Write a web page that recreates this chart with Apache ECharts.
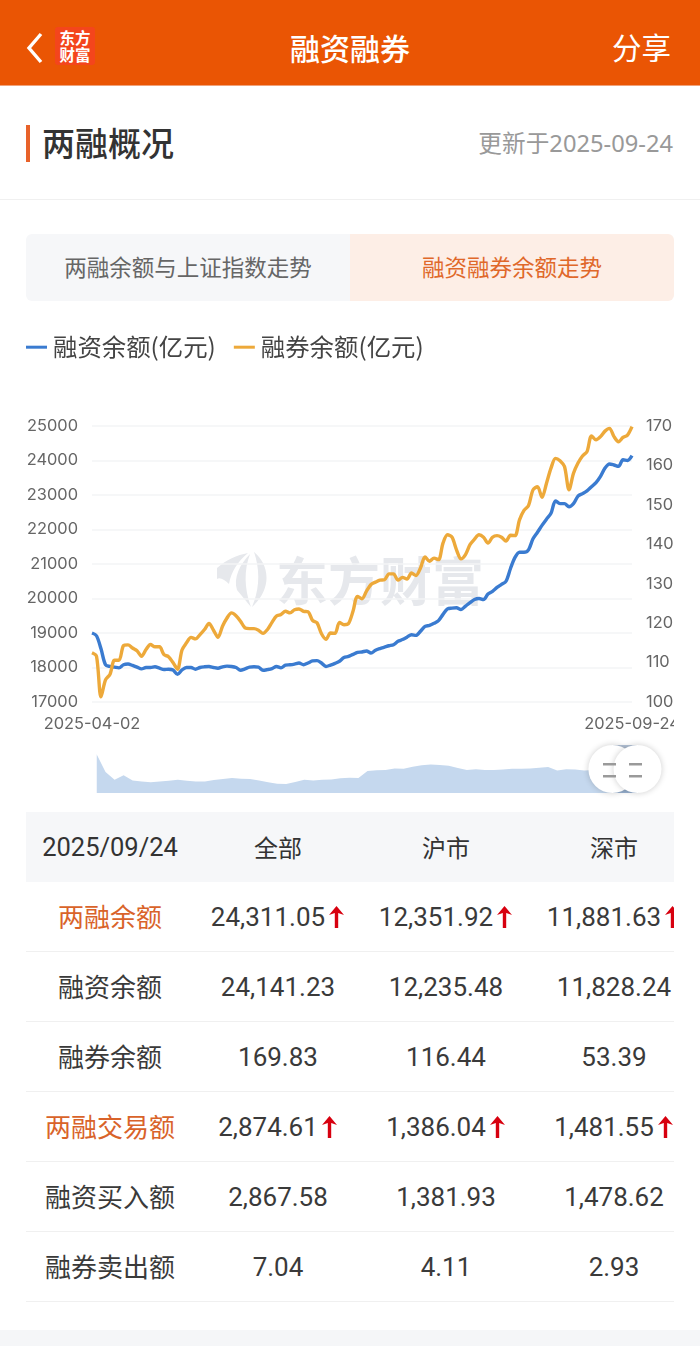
<!DOCTYPE html>
<html>
<head>
<meta charset="utf-8">
<title>融资融券</title>
<script src="https://cdn.jsdelivr.net/npm/echarts@6/dist/echarts.min.js"></script>
<style>
  html, body { margin: 0; padding: 0; background: #fff; }
  body { position: relative; width: 700px; height: 1346px; overflow: hidden;
    font-family: "Noto Sans", "Noto Sans CJK SC", sans-serif; color: #333; }
  .abs { position: absolute; white-space: nowrap; }
  #topbar { left: 0; top: 0; width: 700px; height: 85px; background: #ea5504; border-bottom: 1px solid #f0a27a; }
  #logo { left: 55px; top: 27px; width: 40px; height: 38px; background: #f4451c; border-radius: 3px;
    color: #fff; font: 700 15.5px/17px "Noto Sans CJK SC"; text-align: center; padding-top: 2px; box-sizing: border-box; }
  #tabs { left: 26px; top: 234px; width: 648px; height: 67px; border-radius: 6px; overflow: hidden; display: flex;
    font: 400 22.5px/65px "Noto Sans CJK SC"; text-align: center; }
  #tabs div { width: 324px; height: 67px; }
  #watermark { left: 276px; top: 544px; font: 700 52px/70px "Noto Sans CJK SC"; color: #e6e8ec; }
  #chart { position: absolute; left: 26px; top: 320px; width: 648px; height: 480px; }
  #tableWrap { left: 26px; top: 812px; width: 648px; overflow: hidden; }
  table { width: 672px; table-layout: fixed; border-collapse: separate; border-spacing: 0; }
  td, th { height: 70px; padding: 0; text-align: center; font-weight: 400; white-space: nowrap; font-size: 26px;
    font-family: Roboto, "Noto Sans CJK SC"; box-sizing: border-box; }
  th { background: #f6f7f9; font-size: 24px; padding-bottom: 1px; }
  th:first-child { font-size: 25.5px; }
  td { border-bottom: 1px solid #f0f0f0; color: #3a3a3a; }
  td:first-child { font-family: "Noto Sans CJK SC"; font-size: 26px; padding-bottom: 3px; }
  td svg { vertical-align: -3px; margin-left: 3px; }
  td.hot { color: #d9632a; }
  #footer { left: 0; top: 1330px; width: 700px; height: 16px; background: #f5f6f8; }
</style>
</head>
<body>
<div class="abs" id="topbar"></div>
<svg class="abs" style="left:24px;top:31px" width="22" height="34"><path d="M17 3 L5 17 L17 31" fill="none" stroke="#fff" stroke-width="3.4"/></svg>
<div class="abs" id="logo">东方<br>财富</div>
<div class="abs" style="left:0;width:700px;top:25px;text-align:center;color:#fff;font:500 30px/44px 'Noto Sans CJK SC'">融资融券</div>
<div class="abs" style="left:612px;top:24px;color:#fff;font:400 29.5px/44px 'Noto Sans CJK SC'">分享</div>

<div class="abs" style="left:26px;top:125px;width:4px;height:37px;background:#e8622a"></div>
<div class="abs" style="left:42px;top:118px;color:#333;font:500 33px/48px 'Noto Sans CJK SC'">两融概况</div>
<div class="abs" style="right:27px;top:125px;color:#999;font-size:23.7px;line-height:36px;font-family:'Noto Sans','Noto Sans CJK SC'">更新于2025-09-24</div>
<div class="abs" style="left:0;top:199px;width:700px;height:1px;background:#f0f0f0"></div>

<div class="abs" id="tabs">
  <div style="background:#f6f7f9;color:#666">两融余额与上证指数走势</div>
  <div style="background:#fdeee6;color:#e0682a">融资融券余额走势</div>
</div>

<svg class="abs" style="left:217px;top:552px" width="50" height="56" fill="#e6e8ec">
  <path d="M0 16 C9 8 20 3 31 1 C21 9 14 20 12 32 C8 28 3 25 0 27 Z"/>
  <path d="M33 2 C23 12 16 26 20 38 L34 55 C27 36 27 18 33 2 Z"/>
  <path d="M37 0 C52 12 56 36 35 55 C43 36 43 17 37 0 Z"/>
</svg>
<div class="abs" id="watermark">东方财富</div>
<div id="chart"></div>

<div class="abs" id="tableWrap"><table><thead id="thead"></thead><tbody id="tbody"></tbody></table></div>
<div class="abs" id="footer"></div>

<script>
const dates = [
  "2025-04-02","2025-04-03","2025-04-07","2025-04-08","2025-04-09","2025-04-10","2025-04-11","2025-04-14","2025-04-15","2025-04-16","2025-04-17","2025-04-18","2025-04-21","2025-04-22","2025-04-23","2025-04-24","2025-04-25","2025-04-28","2025-04-29","2025-04-30",
  "2025-05-06","2025-05-07","2025-05-08","2025-05-09","2025-05-12","2025-05-13","2025-05-14","2025-05-15","2025-05-16","2025-05-19","2025-05-20","2025-05-21","2025-05-22","2025-05-23","2025-05-26","2025-05-27","2025-05-28","2025-05-29","2025-05-30",
  "2025-06-03","2025-06-04","2025-06-05","2025-06-06","2025-06-09","2025-06-10","2025-06-11","2025-06-12","2025-06-13","2025-06-16","2025-06-17","2025-06-18","2025-06-19","2025-06-20","2025-06-23","2025-06-24","2025-06-25","2025-06-26","2025-06-27","2025-06-30",
  "2025-07-01","2025-07-02","2025-07-03","2025-07-04","2025-07-07","2025-07-08","2025-07-09","2025-07-10","2025-07-11","2025-07-14","2025-07-15","2025-07-16","2025-07-17","2025-07-18","2025-07-21","2025-07-22","2025-07-23","2025-07-24","2025-07-25","2025-07-28","2025-07-29","2025-07-30","2025-07-31",
  "2025-08-01","2025-08-04","2025-08-05","2025-08-06","2025-08-07","2025-08-08","2025-08-11","2025-08-12","2025-08-13","2025-08-14","2025-08-15","2025-08-18","2025-08-19","2025-08-20","2025-08-21","2025-08-22","2025-08-25","2025-08-26","2025-08-27","2025-08-28","2025-08-29",
  "2025-09-01","2025-09-02","2025-09-03","2025-09-04","2025-09-05","2025-09-08","2025-09-09","2025-09-10","2025-09-11","2025-09-12","2025-09-15","2025-09-16","2025-09-17","2025-09-18","2025-09-19","2025-09-22","2025-09-23","2025-09-24"
];

const financeBalance = [
  19000,18920,18540,18080,18030,18010,17990,18080,18100,18060,18010,17960,18000,18000,18020,17980,17940,17950,17930,17800,
  17930,18000,18000,17950,18000,18020,18030,18000,17980,18020,18040,18030,18000,17920,17960,18010,18020,18010,17920,
  17940,17970,18030,17990,18070,18080,18100,18130,18080,18130,18190,18200,18130,18030,18070,18120,18180,18290,18320,18380,
  18440,18450,18480,18420,18500,18550,18590,18630,18660,18760,18810,18880,18950,18930,19050,19190,19220,19280,19360,19540,19700,19720,19730,
  19680,19780,19880,19970,20000,19970,20130,20210,20320,20410,20500,20870,21190,21340,21340,21410,21730,21920,22120,22300,22470,
  22830,22750,22750,22660,22750,22970,23040,23120,23240,23360,23540,23780,23900,23870,23830,24020,24000,24141.23
];

const lendBalance = [
  112.5,111.6,101.3,105.6,107,110.6,110.6,114.3,114.5,113.7,113,111.6,113.3,114.6,114,114,112,111.5,110,108.3,
  113.2,115,116.4,116,117.1,118.4,119.9,118.2,116.4,119.2,121.3,122.6,121.9,120.5,118.8,118.6,118.6,118.2,117.4,
  118.4,120.2,121.8,122.2,123,122.6,123.4,123.6,123,122.9,120.7,120.1,117.3,115.9,117.5,117.4,120.2,119.6,119.9,123,
  126.8,126.2,128.1,129.8,130.4,130.9,131,132.5,132.5,130.9,131.6,131.2,132.7,132.1,134,136.8,135.7,136.5,136.1,140.3,142.4,141.8,138.6,
  136.3,137.4,139.9,141.3,142.4,141.8,140.3,141.8,142.2,141.8,140.8,142.3,142.2,146.2,148.6,149.8,153.8,154.6,151.9,155.5,159.3,
  161.8,161.2,159.7,153.8,158,160.6,162.4,163.5,167.5,166.5,167.3,168.7,169.4,167.3,166,167.1,167.7,169.83
];

// slider background
const overviewValues = [
  113,62,40,53,38,35,33,35,37,40,37,35,35,39,42,45,43,42,38,33,29,28,34,40,38,40,41,44,46,45,
  65,67,68,72,71,77,81,83,82,80,73,68,70,68,68,69,71,71,72,74,76,66,70,69,66,68,70,72,72,72,72
];

const leftTicks = { min: 17000, max: 25000, interval: 1000 };
const rightTicks = { min: 100, max: 170, interval: 10 };

const tableHeader = ["2025/09/24", "全部", "沪市", "深市"];
const tableRows = [
  ["两融余额", "24,311.05", "12,351.92", "11,881.63"],
  ["融资余额", "24,141.23", "12,235.48", "11,828.24"],
  ["融券余额", "169.83", "116.44", "53.39"],
  ["两融交易额", "2,874.61", "1,386.04", "1,481.55"],
  ["融资买入额", "2,867.58", "1,381.93", "1,478.62"],
  ["融券卖出额", "7.04", "4.11", "2.93"]
];
const risingRows = ["两融余额", "两融交易额"];

const arrow = '<svg width="17" height="24" viewBox="0 0 17 24"><path d="M8.5 1 L16 10 L10.2 8 L10.2 23 L6.8 23 L6.8 8 L1 10 Z" fill="#d7000f"/></svg>';
document.getElementById("thead").innerHTML =
  "<tr>" + tableHeader.map((h) => "<th>" + h + "</th>").join("") + "</tr>";
document.getElementById("tbody").innerHTML = tableRows.map((row) => {
  const rising = risingRows.includes(row[0]);
  return "<tr>" + row.map((v, i) => {
    if (i === 0) return '<td class="' + (rising ? "hot" : "") + '">' + v + "</td>";
    return "<td>" + v + (rising ? arrow : "") + "</td>";
  }).join("") + "</tr>";
}).join("");

const chart = echarts.init(document.getElementById("chart"));
const labelFont = { color: "#666", fontSize: 16.4, fontFamily: "Inter" };
const grip = (x, y) => ({
  type: "rect", z: 100, silent: true,
  shape: { x: x, y: y, width: 13, height: 2.5 },
  style: { fill: "#9a9a9a" }
});

chart.setOption({
  animation: false,
  legend: {
    left: 0,
    top: 15,
    padding: 0,
    itemWidth: 21,
    itemHeight: 3,
    itemGap: 18,
    icon: "rect",
    data: ["融资余额(亿元)", "融券余额(亿元)"],
    textStyle: { color: "#444", fontSize: 24.4, fontFamily: "Noto Sans CJK SC", padding: [0, 0, 0, 1] }
  },
  grid: [
    { left: 66, right: 42, top: 106, height: 276, outerBoundsMode: "none" },
    { left: 68, right: 38, top: 425, height: 48, show: false, outerBoundsMode: "none" }
  ],
  xAxis: [
    {
      type: "category",
      data: dates,
      boundaryGap: false,
      axisLine: { show: false },
      axisTick: { show: false },
      axisLabel: Object.assign({
        margin: 14,
        interval: (i) => i === 0 || i === dates.length - 1,
        showMinLabel: true,
        showMaxLabel: true
      }, labelFont)
    },
    { type: "category", gridIndex: 1, data: overviewValues.map((v, i) => i), show: false, boundaryGap: false }
  ],
  yAxis: [
    {
      type: "value",
      min: leftTicks.min, max: leftTicks.max, interval: leftTicks.interval,
      axisLine: { show: false },
      axisTick: { show: false },
      axisLabel: Object.assign({ margin: 14, padding: [10, 0, 0, 0], formatter: (v) => String(v) }, labelFont),
      splitLine: { lineStyle: { color: "#f3f4f6", width: 1.5 } }
    },
    {
      type: "value",
      min: rightTicks.min, max: rightTicks.max, interval: rightTicks.interval,
      axisLine: { show: false },
      axisTick: { show: false },
      axisLabel: Object.assign({ margin: 14, padding: [10, 0, 0, 0] }, labelFont),
      splitLine: { show: false }
    },
    { type: "value", gridIndex: 1, show: false, scale: true }
  ],
  dataZoom: [
    {
      type: "slider",
      xAxisIndex: 1,
      start: 95,
      end: 100,
      left: 68, right: 38, top: 425, height: 48,
      showDetail: false,
      showDataShadow: true,
      brushSelect: false,
      moveHandleSize: 0,
      borderColor: "transparent",
      backgroundColor: "transparent",
      fillerColor: "rgba(110,140,180,0.5)",
      dataBackground: { lineStyle: { opacity: 0 }, areaStyle: { color: "#c5d8ee", opacity: 1 } },
      selectedDataBackground: { lineStyle: { opacity: 0 }, areaStyle: { color: "#c5d8ee", opacity: 1 } },
      handleIcon: "circle",
      handleSize: "100%",
      handleStyle: { color: "#fff", borderWidth: 0, shadowBlur: 6, shadowColor: "rgba(0,0,0,0.2)" }
    }
  ],
  graphic: [grip(577, 443), grip(577, 455), grip(603, 443), grip(603, 455)],
  series: [
    {
      name: "融资余额(亿元)",
      type: "line",
      data: financeBalance,
      symbol: "none",
      smooth: 0.3,
      lineStyle: { color: "#3a7bd0", width: 3.4 },
      itemStyle: { color: "#3a7bd0" }
    },
    {
      name: "融券余额(亿元)",
      type: "line",
      yAxisIndex: 1,
      data: lendBalance,
      symbol: "none",
      smooth: 0.3,
      lineStyle: { color: "#eda93a", width: 3.4 },
      itemStyle: { color: "#eda93a" }
    },
    {
      name: "overview",
      type: "line",
      xAxisIndex: 1,
      yAxisIndex: 2,
      data: overviewValues,
      symbol: "none",
      silent: true,
      lineStyle: { opacity: 0 }
    }
  ]
});
</script>
</body>
</html>
